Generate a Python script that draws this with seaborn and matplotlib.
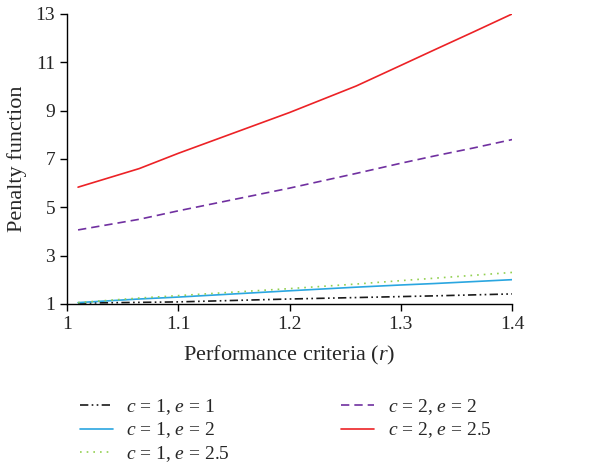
import numpy as np
import pandas as pd
import seaborn as sns
from matplotlib import pyplot as plt

# values
r = [1.01, 1.065, 1.1, 1.2, 1.26, 1.3, 1.33, 1.365, 1.4]
c1_e1 = [1.03, 1.06, 1.08, 1.20, 1.26, 1.30, 1.33, 1.37, 1.41]
c1_e2 = [1.05, 1.20, 1.28, 1.54, 1.69, 1.78, 1.84, 1.92, 2.00]
c1_e25 = [1.05, 1.24, 1.34, 1.63, 1.82, 1.96, 2.06, 2.18, 2.30]
c2_e2 = [4.06, 4.50, 4.85, 5.79, 6.40, 6.82, 7.12, 7.45, 7.80]
c2_e25 = [5.83, 6.60, 7.23, 8.92, 10.02, 10.87, 11.51, 12.25, 13.0]

labels = ['$c$ = 1, $e$ = 1', '$c$ = 1, $e$ = 2', '$c$ = 1, $e$ = 2.5',
          '$c$ = 2, $e$ = 2', '$c$ = 2, $e$ = 2.5']
colors = ['#1a1a1a', '#2aa6e0', '#92d050', '#7030a0', '#ec2226']
styles = [(0, (5, 2, 1, 2, 1, 2)), '-', (0, (1, 3)), (0, (5, 3)), '-']

df = pd.DataFrame({'r': r, labels[0]: c1_e1, labels[1]: c1_e2, labels[2]: c1_e25,
                   labels[3]: c2_e2, labels[4]: c2_e25})

sns.set_style('ticks')
plt.rcParams['font.family'] = ['Liberation Serif', 'DejaVu Serif']
plt.rcParams['mathtext.fontset'] = 'custom'
plt.rcParams['mathtext.it'] = 'Liberation Serif:italic'
plt.rcParams['mathtext.rm'] = 'Liberation Serif'

fig = plt.figure(figsize=(6.14, 4.66), dpi=100)
ax = fig.add_axes([0.109, 0.348, 0.725, 0.622])

for lab, col, ls in zip(labels, colors, styles):
    sns.lineplot(data=df, x='r', y=lab, ax=ax, color=col, linestyle=ls,
                 linewidth=1.2, label=lab, legend=False)

ax.set_xlim(1, 1.4)
ax.set_ylim(1, 13)
ax.set_xticks([1, 1.1, 1.2, 1.3, 1.4])
ax.set_xticklabels(['1', '1.1', '1.2', '1.3', '1.4'])
ax.set_yticks([1, 3, 5, 7, 9, 11, 13])
ax.tick_params(labelsize=14, length=5, width=1, color='black', direction='out')
for s in ['left', 'bottom']:
    ax.spines[s].set_color('black')
    ax.spines[s].set_linewidth(1)
sns.despine(ax=ax)

ax.set_xlabel('Performance criteria ($r$)', fontsize=16, labelpad=8)
ax.set_ylabel('Penalty function', fontsize=16, labelpad=6)

handles, labs = ax.get_legend_handles_labels()
fig.legend(handles, labs, loc='upper left', bbox_to_anchor=(0.117, 0.165),
           ncol=2, frameon=False, fontsize=14, handlelength=1.7,
           handletextpad=0.7, columnspacing=5.7, labelspacing=0.2,
           borderaxespad=0)

fig.savefig('out.png', dpi=100)
